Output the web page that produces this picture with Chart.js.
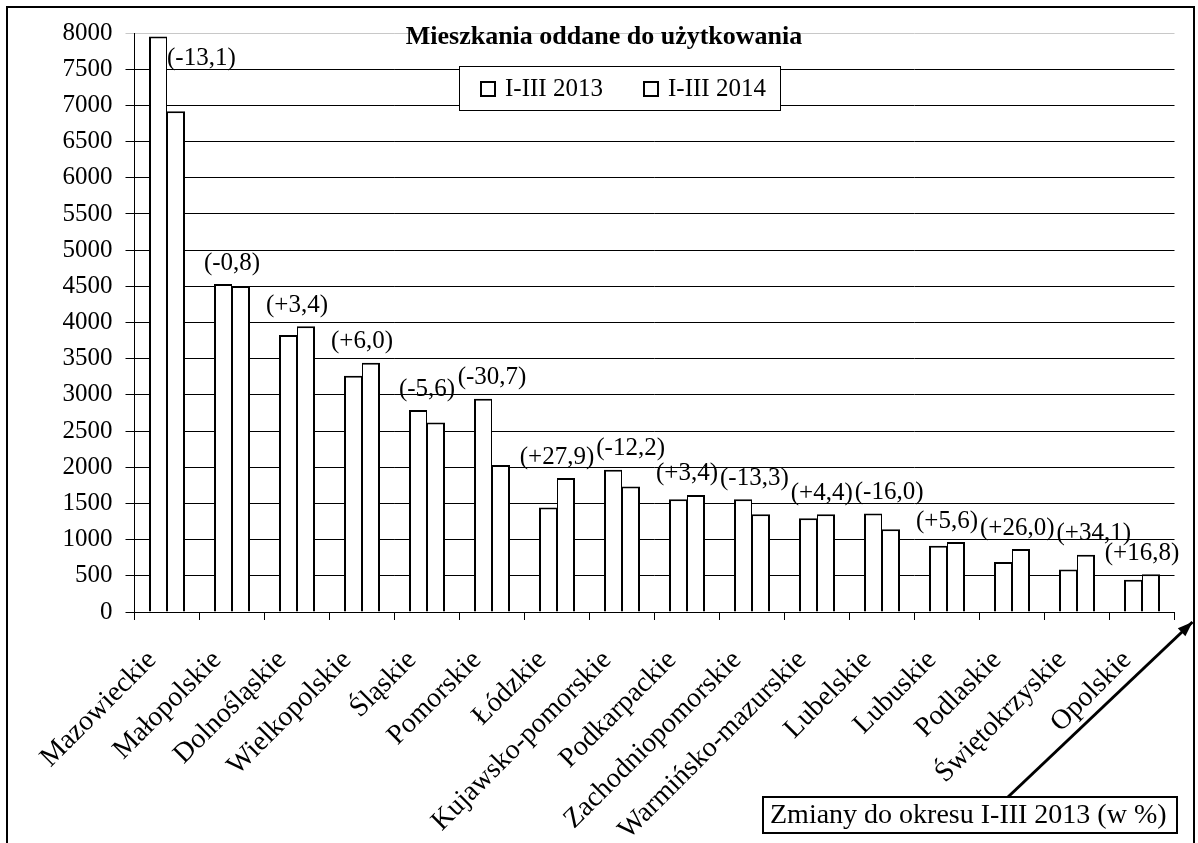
<!DOCTYPE html>
<html lang="pl">
<head>
  <meta charset="UTF-8">
  <title>Mieszkania oddane do użytkowania</title>
  <script src="https://cdn.jsdelivr.net/npm/chart.js"></script>
  <style>
    html, body { margin: 0; padding: 0; background: #fff; }
    #wrap { position: relative; width: 1198px; height: 843px; }
  </style>
</head>
<body>
  <div id="wrap"><canvas id="chart"></canvas></div>

  <script>
    // dane
    const regions = ['Mazowieckie', 'Małopolskie', 'Dolnośląskie', 'Wielkopolskie', 'Śląskie', 'Pomorskie',
      'Łódzkie', 'Kujawsko-pomorskie', 'Podkarpackie', 'Zachodniopomorskie', 'Warmińsko-mazurskie',
      'Lubelskie', 'Lubuskie', 'Podlaskie', 'Świętokrzyskie', 'Opolskie'];
    const flats2013 = [7953, 4532, 3829, 3264, 2790, 2946, 1443, 1967, 1559, 1559, 1297, 1360, 915, 690, 588, 447];
    const flats2014 = [6919, 4505, 3949, 3443, 2620, 2032, 1852, 1733, 1618, 1352, 1352, 1143, 968, 870, 790, 522];
    const changes = ['-13,1', '-0,8', '+3,4', '+6,0', '-5,6', '-30,7', '+27,9', '-12,2', '+3,4', '-13,3',
      '+4,4', '-16,0', '+5,6', '+26,0', '+34,1', '+16,8'];
    const seriesNames = ['I-III 2013', 'I-III 2014'];
    const titleText = 'Mieszkania oddane do użytkowania';
    const noteText = 'Zmiany do okresu I-III 2013 (w %)';

    const SERIF = "'Liberation Serif', 'Times New Roman', serif";

    // ramka, tytuł, legenda, etykiety zmian i strzałka
    const extras = {
      id: 'extras',
      beforeDraw(chart) {
        const c = chart.ctx;
        c.save();
        c.fillStyle = '#fff';
        c.fillRect(0, 0, chart.width, chart.height);
        c.restore();
      },
      afterDraw(chart) {
        const c = chart.ctx;
        const area = chart.chartArea;
        const x = chart.scales.x, y = chart.scales.y;
        c.save();

        // zewnętrzna ramka
        c.strokeStyle = '#000';
        c.lineWidth = 2;
        c.strokeRect(7, 7, 1187, 860);

        // tytuł
        c.fillStyle = '#000';
        c.font = 'bold 26px ' + SERIF;
        c.textAlign = 'center';
        c.textBaseline = 'alphabetic';
        c.fillText(titleText, 604, 44);

        // legenda
        c.fillStyle = '#fff';
        c.fillRect(459, 66, 321, 44);
        c.lineWidth = 1;
        c.strokeStyle = '#000';
        c.strokeRect(459.5, 66.5, 321, 44);
        c.font = '25px ' + SERIF;
        c.textAlign = 'left';
        c.textBaseline = 'middle';
        const legX = [480, 643];
        chart.data.datasets.forEach((ds, i) => {
          c.fillStyle = '#fff';
          c.fillRect(legX[i], 81, 16, 16);
          c.lineWidth = 2;
          c.strokeRect(legX[i] + 1, 82, 14, 14);
          c.fillStyle = '#000';
          c.fillText(ds.label, legX[i] + 25, 89);
        });

        // etykiety zmian nad słupkami (przesuwane w prawo, gdy nachodzą na poprzednią)
        c.font = '25px ' + SERIF;
        c.textBaseline = 'middle';
        const m0 = chart.getDatasetMeta(0), m1 = chart.getDatasetMeta(1);
        let prev = null;
        changes.forEach((txt, i) => {
          const label = '(' + txt + ')';
          const w = c.measureText(label).width;
          const topVal = Math.max(flats2013[i], flats2014[i]);
          let ly = y.getPixelForValue(topVal) - 21;
          let left = x.getPixelForValue(i) - w / 2;
          if (ly - 12 < area.top) {
            const bar = flats2013[i] >= flats2014[i] ? m0.data[i] : m1.data[i];
            left = bar.x + bar.width / 2;
            ly = bar.y + 22;
          } else if (prev && left < prev.right + 2 && Math.abs(ly - prev.y) < 18) {
            left = prev.right + 2;
          }
          c.textAlign = 'left';
          c.fillText(label, left, ly);
          prev = { right: left + w, y: ly };
        });

        // opis i strzałka
        const bx = 763, by = 797, bw = 414, bh = 36;
        const sx = 1008, sy = by;
        const ex = area.right + 18, ey = area.bottom + 10;
        c.strokeStyle = '#000';
        c.lineWidth = 3;
        c.beginPath();
        c.moveTo(sx, sy);
        c.lineTo(ex, ey);
        c.stroke();
        const ang = Math.atan2(ey - sy, ex - sx);
        c.fillStyle = '#000';
        c.beginPath();
        c.moveTo(ex, ey);
        c.lineTo(ex - 16 * Math.cos(ang - 0.35), ey - 16 * Math.sin(ang - 0.35));
        c.lineTo(ex - 16 * Math.cos(ang + 0.35), ey - 16 * Math.sin(ang + 0.35));
        c.closePath();
        c.fill();

        c.fillStyle = '#fff';
        c.fillRect(bx, by, bw, bh);
        c.lineWidth = 2;
        c.strokeRect(bx, by, bw, bh);
        c.fillStyle = '#000';
        c.textAlign = 'left';
        c.textBaseline = 'middle';
        c.font = '28px ' + SERIF;
        c.fillText(noteText, bx + 7, by + bh / 2 + 1);

        c.restore();
      }
    };

    new Chart(document.getElementById('chart'), {
      type: 'bar',
      data: {
        labels: regions,
        datasets: [
          { label: seriesNames[0], data: flats2013, backgroundColor: '#fff', borderColor: '#000',
            borderWidth: { top: 2, left: 2, right: 1, bottom: 0 }, borderSkipped: 'start', inflateAmount: 0 },
          { label: seriesNames[1], data: flats2014, backgroundColor: '#fff', borderColor: '#000',
            borderWidth: { top: 2, left: 1, right: 2, bottom: 0 }, borderSkipped: 'start', inflateAmount: 0 }
        ]
      },
      options: {
        responsive: true,
        maintainAspectRatio: false,
        animation: false,
        layout: { padding: { top: 33, right: 23.5, left: 6.5, bottom: 0 } },
        categoryPercentage: 36 / 65,
        barPercentage: 1,
        plugins: {
          legend: { display: false },
          title: { display: false },
          tooltip: { enabled: false }
        },
        scales: {
          x: {
            afterFit(scale) { scale.height = 231; },
            grid: { display: true, offset: true, drawOnChartArea: false, drawTicks: true, tickLength: 8, color: '#000', lineWidth: 1 },
            border: { display: true, color: '#000', width: 1 },
            ticks: {
              autoSkip: false, maxRotation: 45, minRotation: 45, padding: 24, labelOffset: -15, color: '#000',
              font: { family: SERIF, size: 28 }
            }
          },
          y: {
            min: 0, max: 8000,
            afterFit(scale) { scale.width = 128; },
            grid: {
              color: ctx => (ctx.tick && ctx.tick.value === 8000 ? '#c8c8c8' : '#000'),
              lineWidth: 1, tickLength: 9, drawTicks: true
            },
            border: { display: true, color: '#000', width: 1 },
            ticks: {
              stepSize: 500, padding: 13, color: '#000', font: { family: SERIF, size: 25 },
              callback: v => String(v)
            }
          }
        }
      },
      plugins: [extras]
    });
  </script>
</body>
</html>
